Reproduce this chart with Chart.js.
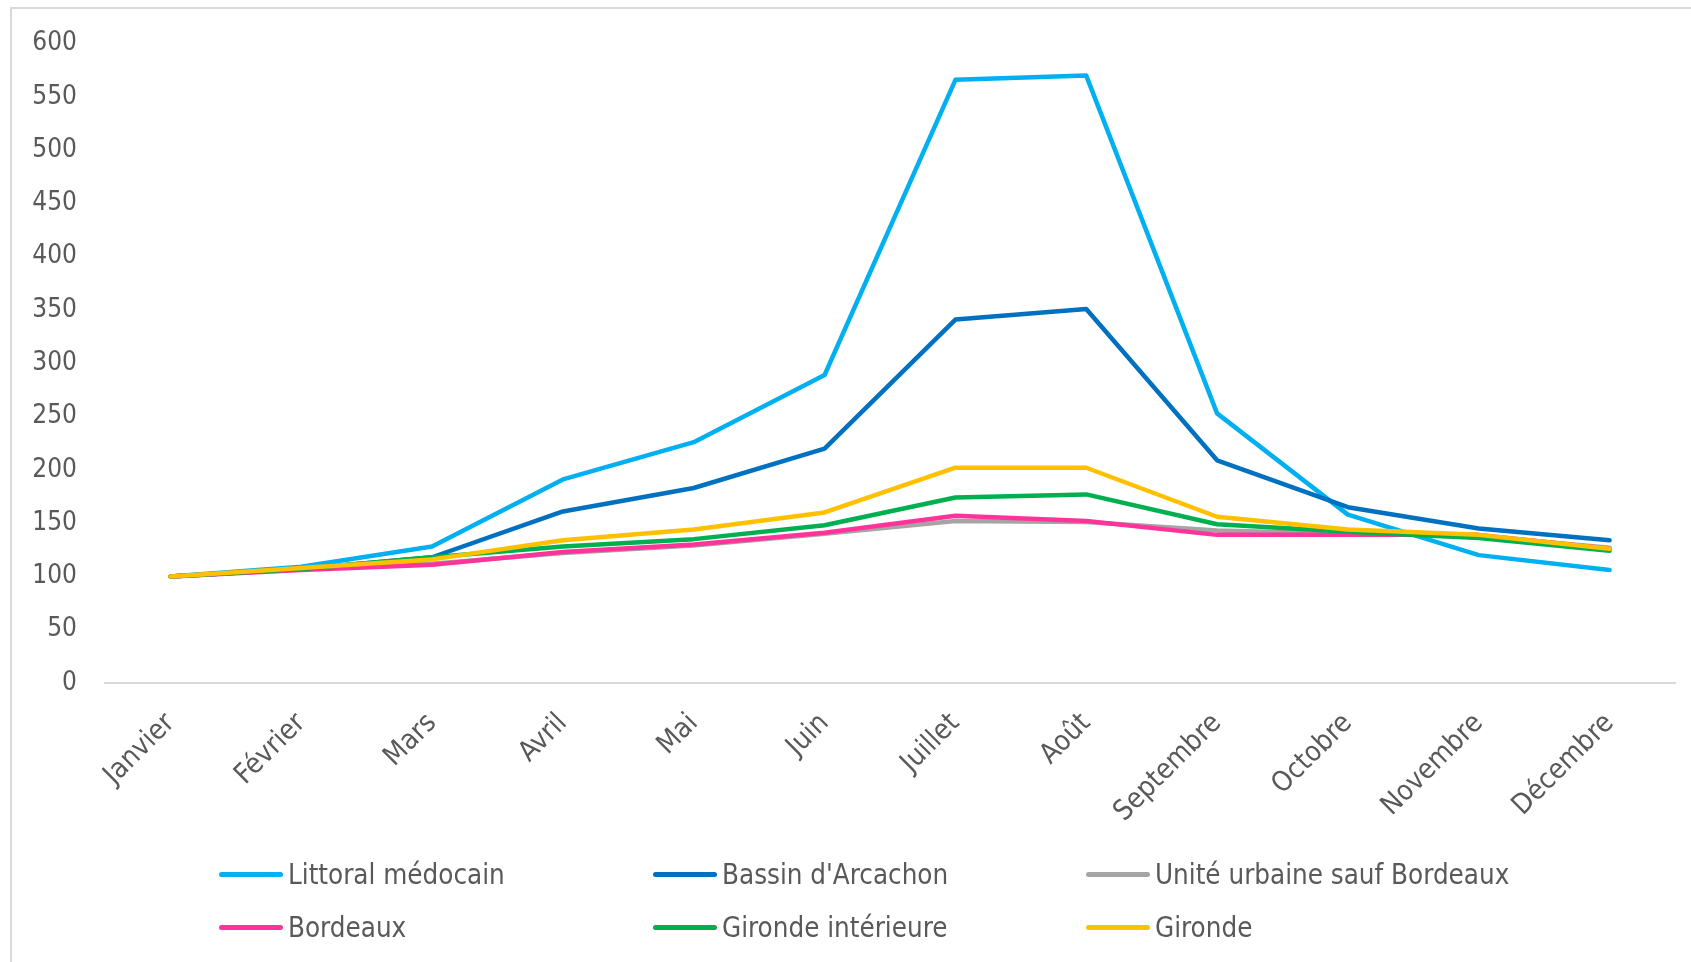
<!DOCTYPE html>
<html lang="fr">
<head>
<meta charset="utf-8">
<script src="https://cdn.jsdelivr.net/npm/chart.js@4/dist/chart.umd.min.js"></script>
<style>
  html, body { margin: 0; padding: 0; background: #fff; }
  #wrap { position: relative; width: 1691px; height: 962px; overflow: hidden; }
  #frame { position: absolute; left: 10px; top: 7px; width: 2000px; height: 2000px;
           border-left: 2px solid #D9D9D9; border-top: 2px solid #D9D9D9; box-sizing: border-box; }
  canvas { position: absolute; left: 0; top: 0; }
  .lg { position: absolute; height: 30px; display: flex; align-items: center;
        font-family: "DejaVu Sans Condensed", "DejaVu Sans", sans-serif; font-size: 27.5px; color: #595959; white-space: nowrap; }
  .lg .sw { display: inline-block; width: 64px; height: 5px; border-radius: 3px; margin-right: 5px; }
</style>
</head>
<body>
<div id="wrap">
  <div id="frame"></div>
  <canvas id="c" width="1691" height="962"></canvas>
  <div id="legend"></div>
</div>
<script>
const months = ['Janvier','Février','Mars','Avril','Mai','Juin','Juillet','Août','Septembre','Octobre','Novembre','Décembre'];
const yTicks = [0, 50, 100, 150, 200, 250, 300, 350, 400, 450, 500, 550, 600];

const seriesNames = ['Littoral médocain', "Bassin d'Arcachon", 'Unité urbaine sauf Bordeaux', 'Bordeaux', 'Gironde intérieure', 'Gironde'];
const seriesColors = ['#00B0F0', '#0070C0', '#A5A5A5', '#FF3399', '#00B050', '#FFC000'];

const littoralMedocain = [100, 109, 128, 191, 226, 289, 566, 570, 253, 158, 120, 106];
const bassinArcachon   = [100, 107, 118, 161, 183, 220, 341, 351, 209, 165, 145, 134];
const uniteUrbaine     = [100, 107, 112, 122, 129, 140, 152, 151, 143, 140, 138, 127];
const bordeaux         = [100, 106, 111, 123, 130, 141, 157, 152, 139, 139, 139, 126];
const girondeInterieure= [100, 107, 118, 128, 135, 148, 174, 177, 149, 142, 136, 124];
const gironde          = [100, 108, 116, 134, 144, 160, 202, 202, 156, 144, 139, 126];

const seriesValues = [littoralMedocain, bassinArcachon, uniteUrbaine, bordeaux, girondeInterieure, gironde];

const FONT = '"DejaVu Sans Condensed", "DejaVu Sans", sans-serif';

const datasets = seriesNames.map((name, i) => ({
  label: name,
  data: seriesValues[i],
  borderColor: seriesColors[i],
  backgroundColor: seriesColors[i],
  borderWidth: 4.5,
  pointRadius: 0,
  pointHoverRadius: 0,
  tension: 0,
  fill: false,
  borderCapStyle: 'round',
  borderJoinStyle: 'round',
  order: seriesNames.length - i
}));

new Chart(document.getElementById('c'), {
  type: 'line',
  data: { labels: months, datasets },
  options: {
    responsive: false,
    animation: false,
    layout: { padding: { left: 0, top: 42, right: 16, bottom: 0 } },
    plugins: { legend: { display: false }, tooltip: { enabled: false } },
    scales: {
      x: {
        offset: true,
        grid: { display: false, drawTicks: false },
        border: { display: true, color: '#D9D9D9', width: 2 },
        ticks: {
          autoSkip: false, maxRotation: 45, minRotation: 45, padding: 24,
          color: '#595959', font: { family: FONT, size: 28 }
        },
        afterFit: (s) => { s.height = 962 - 683; }
      },
      y: {
        min: 0, max: 600,
        afterBuildTicks: (s) => { s.ticks = yTicks.map(v => ({ value: v })); },
        grid: { display: false, drawTicks: false },
        border: { display: false },
        ticks: { padding: 28, color: '#595959', font: { family: FONT, size: 26 } },
        afterFit: (s) => { s.width = 105; }
      }
    }
  }
});

// Legend (3 columns x 2 rows), built from the series arrays
const legendCols = [219, 653, 1086];
const legendRows = [874, 927];
const lg = document.getElementById('legend');
seriesNames.forEach((name, i) => {
  const d = document.createElement('div');
  d.className = 'lg';
  d.style.left = legendCols[i % 3] + 'px';
  d.style.top = (legendRows[Math.floor(i / 3)] - 15) + 'px';
  const sw = document.createElement('span');
  sw.className = 'sw';
  sw.style.background = seriesColors[i];
  const t = document.createElement('span');
  t.textContent = name;
  d.appendChild(sw); d.appendChild(t);
  lg.appendChild(d);
});
</script>
</body>
</html>
